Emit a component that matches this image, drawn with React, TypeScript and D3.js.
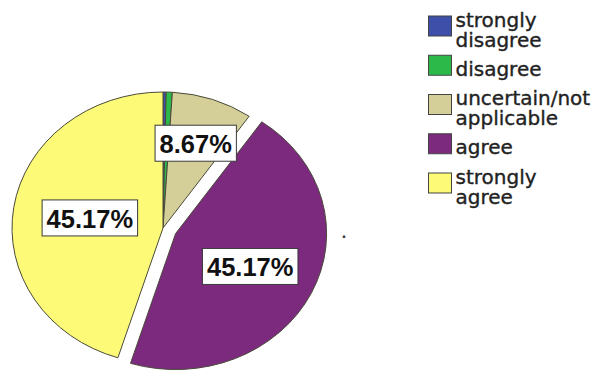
import React, { useEffect, useRef } from "react";
import * as d3 from "d3";

const categories = ["strongly disagree", "disagree", "uncertain/not applicable", "agree", "strongly agree"];
const legendLines = [["strongly", "disagree"], ["disagree"], ["uncertain/not", "applicable"], ["agree"], ["strongly", "agree"]];
const percentages = [0.33, 0.66, 8.67, 45.17, 45.17];
const labelTexts = ["", "", "8.67%", "45.17%", "45.17%"];
const explodedFlags = [false, false, false, true, false];

const colors = ["#3d4fa8", "#2db84a", "#d4cf98", "#7b2a7e", "#fcfa76"];
const labelRadius = [0, 0, 0.66, 0.55, 0.49];

const W = 597;
const H = 373;

export default function App() {
  const ref = useRef<SVGSVGElement | null>(null);

  useEffect(() => {
    const svg = d3.select(ref.current);
    svg.selectAll("*").remove();

    const cx = 163;
    const cy = 228;
    const R = 100;
    const sx = 1.51;
    const sy = 1.36;
    const explode = 9.3;

    const pie = d3.pie<number>().sort(null).value((d) => d);
    const arcs = pie(percentages);
    const arc = d3.arc<d3.PieArcDatum<number>>().innerRadius(0).outerRadius(R);

    svg.append("rect").attr("width", W).attr("height", H).attr("fill", "#ffffff");

    const pieG = svg.append("g").attr("transform", `translate(${cx},${cy}) scale(${sx},${sy})`);

    const offsetOf = (a: d3.PieArcDatum<number>, i: number) => {
      if (!explodedFlags[i]) return [0, 0];
      const m = (a.startAngle + a.endAngle) / 2;
      return [Math.sin(m) * explode, -Math.cos(m) * explode];
    };

    pieG
      .selectAll("path")
      .data(arcs)
      .join("path")
      .attr("d", (d) => arc(d) as string)
      .attr("transform", (d, i) => {
        const [ox, oy] = offsetOf(d, i);
        return `translate(${ox},${oy})`;
      })
      .attr("fill", (d, i) => colors[i])
      .attr("stroke", "#4a4a3a")
      .attr("stroke-width", 1)
      .attr("stroke-linejoin", "round")
      .attr("vector-effect", "non-scaling-stroke");

    // labels
    const labelG = svg.append("g");
    arcs.forEach((a, i) => {
      if (!labelTexts[i]) return;
      const m = (a.startAngle + a.endAngle) / 2;
      const [ox, oy] = offsetOf(a, i);
      const lx = cx + (ox + Math.sin(m) * R * labelRadius[i]) * sx;
      const ly = cy + (oy - Math.cos(m) * R * labelRadius[i]) * sy;
      const g = labelG.append("g");
      const rect = g.append("rect");
      const t = g
        .append("text")
        .attr("x", lx)
        .attr("y", ly + 10)
        .attr("text-anchor", "middle")
        .attr("font-family", "'Liberation Sans', Arial, sans-serif")
        .attr("font-weight", "bold")
        .attr("font-size", 25.5)
        .attr("fill", "#111")
        .text(labelTexts[i]);
      const tw = (t.node() as SVGTextElement).getComputedTextLength();
      const bw = tw + 9;
      const bh = 36;
      rect
        .attr("x", lx - bw / 2)
        .attr("y", ly - bh / 2)
        .attr("width", bw)
        .attr("height", bh)
        .attr("fill", "#ffffff")
        .attr("stroke", "#3a3a3a")
        .attr("stroke-width", 1);
    });

    // stray dot
    svg
      .append("text")
      .attr("x", cx + 181)
      .attr("y", cy + 10)
      .attr("text-anchor", "middle")
      .attr("font-family", "'Liberation Sans', Arial, sans-serif")
      .attr("font-weight", "bold")
      .attr("font-size", 16)
      .attr("fill", "#333")
      .text(".");

    // legend
    const legX = 428.5;
    const legY = 16;
    const step = 39.25;
    const sw = 23;
    const sh = 20;
    const lineH = 20;
    const legG = svg.append("g");
    categories.forEach((c, i) => {
      const top = legY + i * step;
      legG
        .append("rect")
        .attr("x", legX)
        .attr("y", top)
        .attr("width", sw)
        .attr("height", sh)
        .attr("fill", colors[i])
        .attr("stroke", "#444")
        .attr("stroke-width", 1);
      const lines = legendLines[i];
      const mid = top + sh / 2;
      const firstBase = mid + 10.5 - (lines.length - 1) * (lineH / 2);
      const txt = legG
        .append("text")
        .attr("font-family", "'DejaVu Sans', Verdana, sans-serif")
        .attr("font-size", 20)
        .attr("fill", "#222")
        .attr("stroke", "#222")
        .attr("stroke-width", 0.35);
      lines.forEach((ln, j) => {
        txt
          .append("tspan")
          .attr("x", legX + sw + 4)
          .attr("y", firstBase + j * lineH)
          .text(ln);
      });
    });
  }, []);

  return (
    <svg
      ref={ref}
      width={W}
      height={H}
      style={{ position: "absolute", left: 0, top: 0, display: "block" }}
    />
  );
}
